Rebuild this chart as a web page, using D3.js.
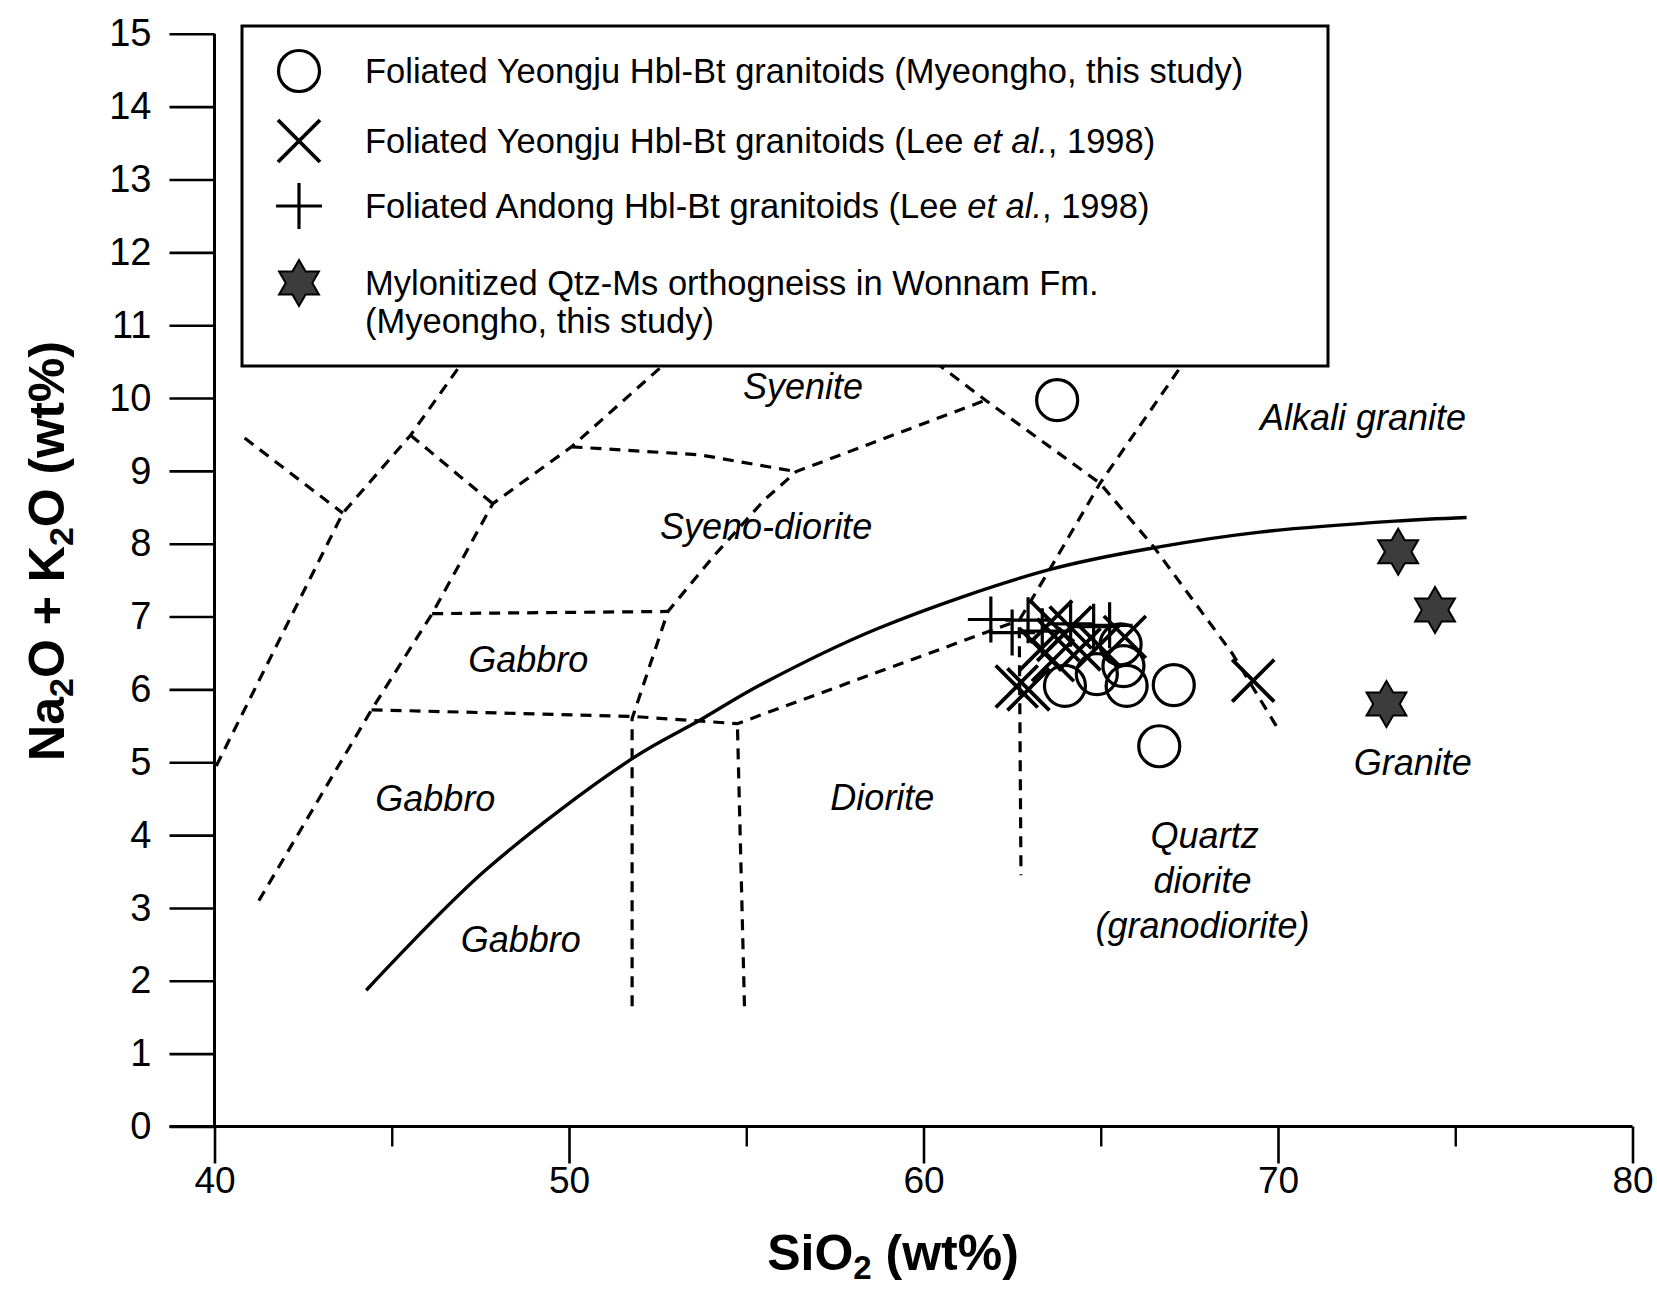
<!DOCTYPE html>
<html><head><meta charset="utf-8">
<script src="https://cdn.jsdelivr.net/npm/d3@7"></script>
<style>body{margin:0;background:#fff}svg{display:block}</style>
</head><body>
<svg id="chart" width="1657" height="1302"></svg>
<script>
// ---------------- data ----------------
const xTickValues = [40, 50, 60, 70, 80];
const xMinorTickValues = [45, 55, 65, 75];
const yTickValues = [0,1,2,3,4,5,6,7,8,9,10,11,12,13,14,15];

// SiO2, Na2O+K2O
const circlesMyeongho = [
  [63.77, 9.97], [66.65, 5.22], [67.06, 6.06], [65.73, 6.05],
  [65.64, 6.32], [65.56, 6.62], [63.99, 6.05], [64.89, 6.21]
];
const crossesYeongjuLee = [
  [62.63, 6.04], [62.96, 6.00], [63.60, 6.93], [63.30, 6.55],
  [63.65, 6.40], [63.80, 6.68], [64.15, 6.85], [64.40, 6.55],
  [64.95, 6.60], [65.68, 6.72], [69.30, 6.12]
];
const plusesAndongLee = [
  [61.90, 6.96], [62.50, 6.78], [62.95, 6.95], [63.35, 6.80],
  [64.15, 6.90], [64.80, 6.86], [65.25, 6.88]
];
const starsOrthogneiss = [
  [73.39, 7.89], [74.43, 7.09], [73.06, 5.80]
];

// alkaline / subalkaline divide (solid)
const alkalineDivide = [
  [44.28, 1.87], [47.65, 3.52], [51.78, 5.05], [53.70, 5.58], [55.39, 6.06],
  [58.73, 6.84], [63.52, 7.64], [66.69, 7.96], [69.49, 8.16], [73.30, 8.31], [75.32, 8.36]
];

// field boundaries (dashed)
const fieldBoundaries = [
  [[40.05, 4.95], [43.62, 8.42], [45.53, 9.49], [47.30, 10.70]],
  [[40.85, 9.45], [43.62, 8.42]],
  [[45.53, 9.49], [47.85, 8.55]],
  [[41.25, 3.10], [44.43, 5.72], [46.14, 7.04], [47.85, 8.55], [50.07, 9.33], [53.00, 10.60]],
  [[46.14, 7.04], [52.79, 7.07]],
  [[50.07, 9.33], [53.70, 9.22], [56.41, 8.99]],
  [[51.78, 1.65], [51.78, 5.60], [52.79, 7.07], [54.10, 7.84], [55.51, 8.60], [56.41, 8.99], [61.75, 9.97]],
  [[44.43, 5.72], [51.78, 5.63], [54.75, 5.53], [62.70, 6.95]],
  [[54.95, 1.65], [54.75, 5.53]],
  [[59.90, 10.65], [61.75, 9.97], [64.98, 8.83], [66.49, 7.96], [68.70, 6.50], [69.95, 5.50]],
  [[67.50, 10.60], [64.98, 8.83], [63.60, 7.68], [62.70, 6.95], [62.75, 3.45]]
];

const regionLabels = [
  {text: "Syenite", x: 56.60, y: 10.16},
  {text: "Alkali granite", x: 72.40, y: 9.73},
  {text: "Syeno-diorite", x: 55.56, y: 8.24},
  {text: "Gabbro", x: 48.85, y: 6.41},
  {text: "Gabbro", x: 46.23, y: 4.50},
  {text: "Diorite", x: 58.84, y: 4.51},
  {text: "Granite", x: 73.80, y: 4.99},
  {text: "Quartz", x: 67.93, y: 3.99},
  {text: "diorite", x: 67.87, y: 3.38},
  {text: "(granodiorite)", x: 67.87, y: 2.76},
  {text: "Gabbro", x: 48.64, y: 2.57}
];

const legendEntries = [
  {symbol: "circle", parts: [["Foliated Yeongju Hbl-Bt granitoids (Myeongho, this study)", false]]},
  {symbol: "cross", parts: [["Foliated Yeongju Hbl-Bt granitoids (Lee ", false], ["et al.", true], [", 1998)", false]]},
  {symbol: "plus", parts: [["Foliated Andong Hbl-Bt granitoids (Lee ", false], ["et al.", true], [", 1998)", false]]},
  {symbol: "star", parts: [["Mylonitized Qtz-Ms orthogneiss in Wonnam Fm.", false]], line2: "(Myeongho, this study)"}
];

// ---------------- drawing ----------------
const svg = d3.select("#chart");
const FONT = "'Liberation Sans', Arial, Helvetica, sans-serif";
const x = d3.scaleLinear().domain([40, 80]).range([214.5, 1632.5]);
const y = d3.scaleLinear().domain([0, 15]).range([1126.5, 33.8]);

svg.append("rect").attr("width", 1657).attr("height", 1302).attr("fill", "#fff");

svg.append("clipPath").attr("id", "plotclip").append("rect")
  .attr("x", x(40)).attr("y", y(15)).attr("width", x(80) - x(40)).attr("height", y(0) - y(15));

const plot = svg.append("g").attr("clip-path", "url(#plotclip)");

const lineGen = d3.line().x(d => x(d[0])).y(d => y(d[1]));

plot.selectAll("path.boundary").data(fieldBoundaries).join("path")
  .attr("class", "boundary")
  .attr("d", lineGen)
  .attr("fill", "none").attr("stroke", "#000").attr("stroke-width", 3.2)
  .attr("stroke-dasharray", "11,8");

plot.append("path").datum(alkalineDivide)
  .attr("d", d3.line().x(d => x(d[0])).y(d => y(d[1])).curve(d3.curveCatmullRom.alpha(0.5)))
  .attr("fill", "none").attr("stroke", "#000").attr("stroke-width", 3.4);

// region labels
svg.selectAll("text.region").data(regionLabels).join("text")
  .attr("class", "region")
  .attr("x", d => x(d.x)).attr("y", d => y(d.y))
  .attr("text-anchor", "middle").attr("dominant-baseline", "central")
  .attr("font-family", FONT).attr("font-style", "italic").attr("font-size", 36)
  .text(d => d.text);

// markers
const MS = 21;
function drawCircle(g) {
  g.append("circle").attr("r", 20.5).attr("fill", "none").attr("stroke", "#000").attr("stroke-width", 3.2);
}
function drawCross(g) {
  g.append("path").attr("d", `M${-MS},${-MS}L${MS},${MS}M${-MS},${MS}L${MS},${-MS}`)
    .attr("stroke", "#000").attr("stroke-width", 3.8).attr("fill", "none");
}
function drawPlus(g) {
  g.append("path").attr("d", `M${-MS-2},0L${MS+2},0M0,${-MS-2}L0,${MS+2}`)
    .attr("stroke", "#000").attr("stroke-width", 3.2).attr("fill", "none");
}
function starPath(R) {
  const r = R / Math.sqrt(3);
  const pts = d3.range(12).map(i => {
    const a = -Math.PI / 2 + i * Math.PI / 6;
    const rr = i % 2 === 0 ? R : r;
    return [rr * Math.cos(a), rr * Math.sin(a)];
  });
  return "M" + pts.map(p => p.join(",")).join("L") + "Z";
}
function drawStar(g) {
  g.append("path").attr("d", starPath(23)).attr("fill", "#3c3c3c").attr("stroke", "#000").attr("stroke-width", 2);
}
const drawers = {circle: drawCircle, cross: drawCross, plus: drawPlus, star: drawStar};

function plotSeries(data, kind) {
  svg.append("g").selectAll("g").data(data).join("g")
    .attr("transform", d => `translate(${x(d[0])},${y(d[1])})`)
    .each(function() { drawers[kind](d3.select(this)); });
}
plotSeries(plusesAndongLee, "plus");
plotSeries(crossesYeongjuLee, "cross");
plotSeries(circlesMyeongho, "circle");
plotSeries(starsOrthogneiss, "star");

// axes
const yAxis = d3.axisLeft(y).tickValues(yTickValues).tickSize(45).tickPadding(18).tickFormat(d3.format("d"));
const gy = svg.append("g").attr("transform", `translate(${x(40)},0)`).call(yAxis);
gy.select(".domain").remove();
gy.selectAll(".tick line").attr("stroke", "#000").attr("stroke-width", 2.6);
gy.selectAll(".tick text").attr("font-family", FONT).attr("font-size", 38).attr("fill", "#000");
svg.append("line").attr("x1", x(40)).attr("x2", x(40)).attr("y1", y(0) + 1.5).attr("y2", y(15))
  .attr("stroke", "#000").attr("stroke-width", 3);

const xAxis = d3.axisBottom(x).tickValues(xTickValues).tickSize(37).tickPadding(3).tickFormat(d3.format("d"));
const gx = svg.append("g").attr("transform", `translate(0,${y(0)})`).call(xAxis);
gx.select(".domain").remove();
gx.selectAll(".tick line").attr("stroke", "#000").attr("stroke-width", 2.6);
gx.selectAll(".tick text").attr("font-family", FONT).attr("font-size", 37).attr("fill", "#000");
const xMinor = d3.axisBottom(x).tickValues(xMinorTickValues).tickSize(20).tickFormat("");
const gxm = svg.append("g").attr("transform", `translate(0,${y(0)})`).call(xMinor);
gxm.select(".domain").remove();
gxm.selectAll(".tick line").attr("stroke", "#000").attr("stroke-width", 2.4);
svg.append("line").attr("x1", x(40) - 45).attr("x2", x(80)).attr("y1", y(0)).attr("y2", y(0))
  .attr("stroke", "#000").attr("stroke-width", 3);

// axis titles
const xt = svg.append("text").attr("x", 893).attr("y", 1270).attr("text-anchor", "middle")
  .attr("font-family", FONT).attr("font-weight", "bold").attr("font-size", 50);
xt.append("tspan").text("SiO");
xt.append("tspan").attr("font-size", 33).attr("dy", 9).text("2");
xt.append("tspan").attr("dy", -9).text(" (wt%)");

const yt = svg.append("text").attr("transform", "translate(64,551) rotate(-90)").attr("text-anchor", "middle")
  .attr("font-family", FONT).attr("font-weight", "bold").attr("font-size", 50);
yt.append("tspan").text("Na");
yt.append("tspan").attr("font-size", 34).attr("dy", 9).text("2");
yt.append("tspan").attr("dy", -9).text("O + K");
yt.append("tspan").attr("font-size", 34).attr("dy", 9).text("2");
yt.append("tspan").attr("dy", -9).text("O (wt%)");

// legend
const lg = svg.append("g");
lg.append("rect").attr("x", 242).attr("y", 26).attr("width", 1086).attr("height", 340)
  .attr("fill", "#fff").attr("stroke", "#000").attr("stroke-width", 3);
const rowY = [71, 141, 206, 283];
legendEntries.forEach((e, i) => {
  const g = lg.append("g").attr("transform", `translate(299,${rowY[i]})`);
  drawers[e.symbol](g);
  const t = lg.append("text").attr("x", 365).attr("y", rowY[i]).attr("dominant-baseline", "central")
    .attr("font-family", FONT).attr("font-size", 34.5);
  e.parts.forEach(p => t.append("tspan").attr("font-style", p[1] ? "italic" : "normal").text(p[0]));
  if (e.line2) {
    lg.append("text").attr("x", 365).attr("y", rowY[i] + 38).attr("dominant-baseline", "central")
      .attr("font-family", FONT).attr("font-size", 34.5).text(e.line2);
  }
});
</script>
</body></html>
